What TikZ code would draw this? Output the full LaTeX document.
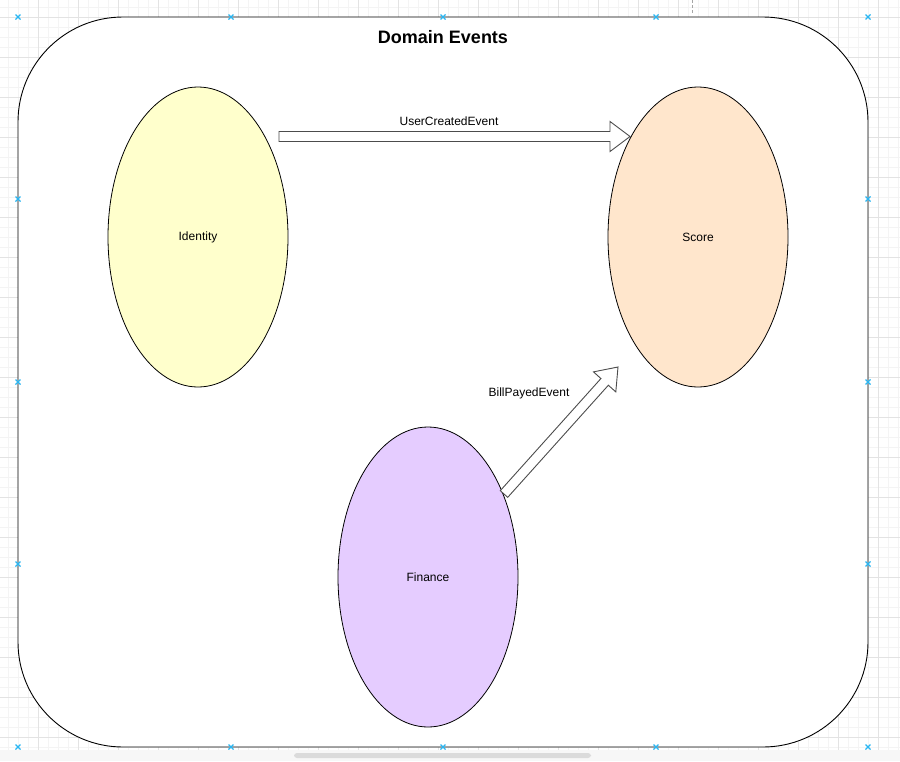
\documentclass[tikz,border=0pt]{standalone}
\usepackage{fontspec}
\setmainfont{Liberation Sans}
\usetikzlibrary{shapes.geometric,calc}
\definecolor{identityfill}{HTML}{FFFFCC}
\definecolor{scorefill}{HTML}{FFE6CC}
\definecolor{financefill}{HTML}{E5CCFF}
\definecolor{handleblue}{HTML}{29B6F2}
\definecolor{gridminor}{HTML}{F4F4F4}
\definecolor{gridmajor}{HTML}{E3E3E3}
\begin{document}
\begin{tikzpicture}[x=1pt,y=-1pt,
    context/.style={ellipse,draw=black,line width=0.8pt,minimum width=180pt,minimum height=300pt,inner sep=0pt,font=\fontsize{12pt}{14pt}\selectfont},
    eventarrow/.style={draw=black!70,line width=0.9pt,fill=white,line join=miter},
    eventlabel/.style={font=\fontsize{12pt}{14pt}\selectfont,inner sep=0pt},
    handle/.style={handleblue,line width=1.1pt}]
  \useasboundingbox (0,0) rectangle (900,761);
  \foreach \x in {8,18,...,898} \draw[gridminor,line width=0.6pt] (\x,0) -- (\x,750);
  \foreach \y in {7,17,...,747} \draw[gridminor,line width=0.6pt] (0,\y) -- (900,\y);
  \foreach \x in {38,78,...,878} \draw[gridmajor,line width=0.6pt] (\x,0) -- (\x,750);
  \foreach \y in {17,57,...,737} \draw[gridmajor,line width=0.6pt] (0,\y) -- (900,\y);
  \fill[black!3] (0,750) rectangle (900,761);
  \fill[black!14,rounded corners=3pt] (294,753) rectangle (591,758);
  \draw[black!35,dash pattern=on 3pt off 2pt] (692,0) -- (692,14);
  \draw[line width=0.9pt,fill=white,rounded corners=105pt] (18,17) rectangle (868,747);
  \node[font=\bfseries\fontsize{18pt}{21pt}\selectfont,inner sep=0pt] (title) at (443,37) {Domain Events};
  \draw
    (198,237) node[context,fill=identityfill] (identity) {Identity}
    (698,237) node[context,fill=scorefill] (score) {Score}
    (428,577) node[context,fill=financefill] (finance) {Finance};
  \coordinate (uce-tail) at (279,136.5);
  \coordinate (uce-tip) at (630,136.5);
  \coordinate (bpe-tail) at (504,494);
  \coordinate (bpe-tip) at (618,367);
  \foreach \t/\p in {uce-tail/uce-tip,bpe-tail/bpe-tip} {
    \coordinate (hb) at ($(\p)!20pt!(\t)$);
    \draw[eventarrow] ($(\t)!5pt!90:(\p)$) -- ($(hb)!5pt!90:(\p)$) -- ($(hb)!15pt!90:(\p)$) -- (\p)
      -- ($(hb)!15pt!-90:(\p)$) -- ($(hb)!5pt!-90:(\p)$) -- ($(\t)!5pt!-90:(\p)$) -- cycle;
  }
  \node[eventlabel] (uce-label) at (449,121) {UserCreatedEvent};
  \node[eventlabel] (bpe-label) at (529,393) {BillPayedEvent};
  \foreach \x/\y in {18/17,231/17,443/17,656/17,868/17,18/199,868/199,18/382,868/382,18/564,868/564,18/747,231/747,443/747,656/747,868/747}
    \draw[handle] (\x-2.5,\y-2.5) -- (\x+2.5,\y+2.5) (\x-2.5,\y+2.5) -- (\x+2.5,\y-2.5);
\end{tikzpicture}
\end{document}
